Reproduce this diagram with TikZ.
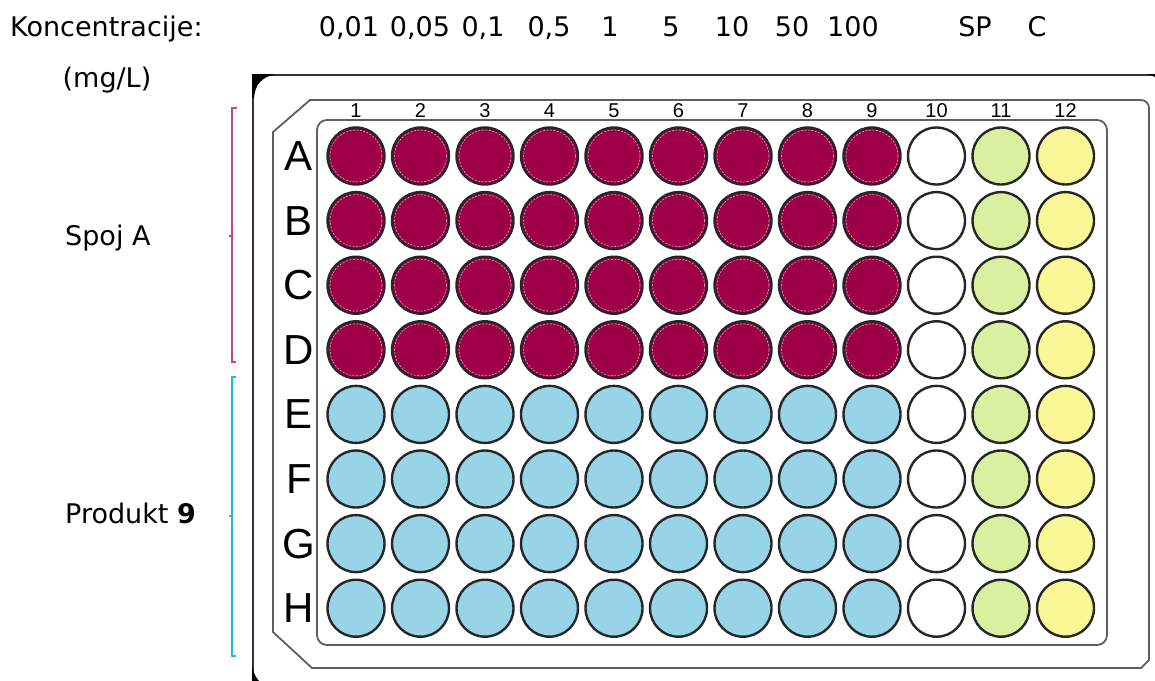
\documentclass[tikz,border=0pt]{standalone}
\usepackage{fontspec}
\setmainfont{DejaVu Sans}
\newfontfamily\platefont{Liberation Sans}
\usepackage{tikz}
\usetikzlibrary{positioning}

\definecolor{spojA}{RGB}{158,0,72}
\definecolor{produkt}{RGB}{152,212,231}
\definecolor{spcol}{RGB}{218,240,160}
\definecolor{ccol}{RGB}{250,248,150}
\definecolor{spojbr}{RGB}{200,70,130}
\definecolor{produktbr}{RGB}{30,190,215}
\definecolor{plategray}{RGB}{95,95,95}

\begin{document}
\begin{tikzpicture}[x=1pt, y=-1pt,
    well/.style={circle, draw=black!85, line width=2.4pt, minimum size=57pt, inner sep=0pt},
    ring/.style={white!65!spojA, line width=0.6pt, dash pattern=on 2pt off 1.5pt},
    frameline/.style={draw=plategray, line width=1.8pt},
    txt/.style={font=\fontsize{27}{32}\selectfont, inner sep=0pt},
    rowlbl/.style={font=\platefont\fontsize{42}{42}\selectfont, inner sep=0pt},
    collbl/.style={font=\platefont\fontsize{20}{20}\selectfont, inner sep=0pt},
    bracket/.style={line width=2pt}]
    \useasboundingbox (0,0) rectangle (1155,680);
    \clip (0,0) rectangle (1155,680);

    % ploca - vanjski rub
    \draw[line width=1.8pt, black!80] (253,75) rectangle (1170,689);
    \fill[black] (252,74) -- (276,74) .. controls (262,77) and (255,84) .. (254,98) -- (252,98) -- cycle;
    \fill[black] (1171,74) -- (1146,74) .. controls (1160,77) and (1167,84) .. (1168,98) -- (1171,98) -- cycle;
    \fill[black] (252,690) -- (252,666) .. controls (255,680) and (262,687) .. (276,688) -- (276,690) -- cycle;

    % srednji okvir i unutarnji okvir
    \draw[frameline] (310,100) -- (1141,100) arc[start angle=90, end angle=0, radius=8pt]
        -- (1149,660) -- (1141,668) -- (312,668) -- (273,632) -- (273,132) -- cycle;
    \draw[frameline, rounded corners=10pt] (317,120) rectangle (1107,645);

    % oznake stupaca i redova
    \foreach \c in {1,...,12}
        \node[collbl] (col\c) at ({356+64.5*(\c-1)}, 111) {\c};
    \foreach \l [count=\r] in {A,...,H}
        \node[rowlbl] (row\l) at (299, {156+64.6*(\r-1)}) {\l};

    % Spoj A
    \foreach \l [count=\r] in {A,B,C,D}
        \foreach \c in {1,...,9} {
            \node[well, fill=spojA] (\l\c) at ({356+64.5*(\c-1)}, {156+64.6*(\r-1)}) {};
            \draw[ring] (\l\c) circle (26pt);
        }
    % Produkt 9
    \foreach \l [count=\r from 5] in {E,F,G,H}
        \foreach \c in {1,...,9}
            \node[well, fill=produkt] (\l\c) at ({356+64.5*(\c-1)}, {156+64.6*(\r-1)}) {};
    % stupci 10, 11 (SP) i 12 (C)
    \foreach \l [count=\r] in {A,...,H} {
        \node[well, fill=white] (\l10) at (936.5, {156+64.6*(\r-1)}) {};
        \node[well, fill=spcol] (\l11) at (1001, {156+64.6*(\r-1)}) {};
        \node[well, fill=ccol] (\l12) at (1065.5, {156+64.6*(\r-1)}) {};
    }

    % zaglavlje
    \node[txt, anchor=base west] (konc) at (10,36) {Koncentracije:};
    \node[txt, anchor=base] (unit) at (107,87) {(mg/L)};
    \foreach \x/\t [count=\i] in {349/{0,01}, 420/{0,05}, 483/{0,1}, 549/{0,5}, 610/1, 671/5,
                                  732/10, 792/50, 853/100, 975/SP, 1037/C}
        \node[txt, anchor=base] (conc\i) at (\x,36) {\t};

    % skupine uzoraka
    \node[txt, anchor=base west] (spoj) at (65,245) {Spoj A};
    \node[txt, anchor=base west] (produkt9) at (65,523) {Produkt \textbf{9}};
    \draw[bracket, spojbr] (237,108) -- (232,108) -- (232,362) -- (236,362);
    \draw[bracket, spojbr] (232,236) -- (229,236);
    \draw[bracket, produktbr] (236,377) -- (232,377) -- (232,656) -- (236,656);
    \draw[bracket, produktbr] (232,516) -- (229,516);
\end{tikzpicture}
\end{document}
